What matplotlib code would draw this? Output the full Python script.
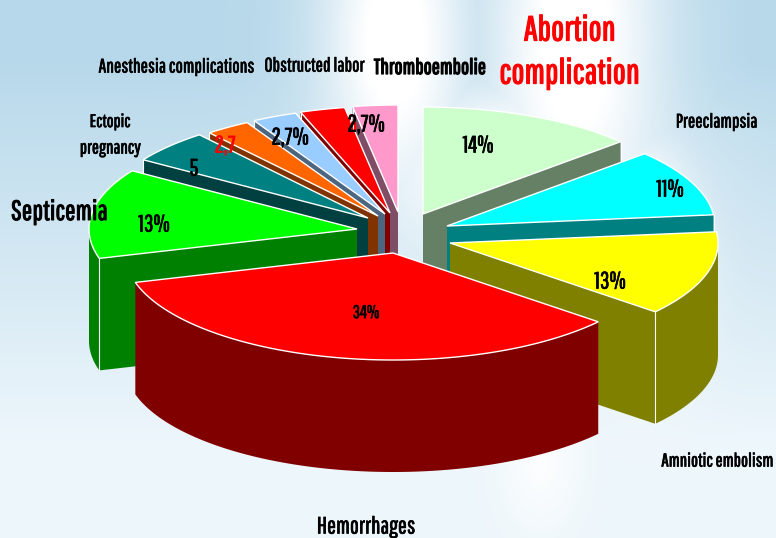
import numpy as np
import matplotlib
matplotlib.use("Agg")
import matplotlib.pyplot as plt
import matplotlib.patheffects as pe

# ---- data ----
categories = ["Unlabelled", "Preeclampsia", "Amniotic embolism", "Hemorrhages", "Septicemia",
              "Ectopic pregnancy", "Anesthesia complications", "Obstructed labor", "Other", "Thromboembolie"]
values = [14, 11, 13, 34, 13, 5, 2.7, 2.7, 2.7, 2.7]
value_labels = ["14%", "11%", "13%", "34%", "13%", "5", "2,7", "2,7%", "2,7%", "2,7%"]

# ---- style / layout ----
top_colors = ["#CCFFCC", "#00FFFF", "#FFFF00", "#FF0000", "#00FF00", "#008080", "#FF6600", "#99CCFF", "#FF0000", "#FF99CC"]
side_colors = ["#668066", "#008080", "#808000", "#800000", "#008000", "#004040", "#803300", "#4D6680", "#800000", "#804D66"]
apex_px = [(423, 214), (447, 226), (450, 243), (393, 253), (357, 229),
           (368, 218), (378, 216), (385, 214), (390, 213), (398, 212)]
draw_order = [0, 9, 8, 7, 6, 5, 4, 1, 2, 3]
RX, RY, DEPTH = 268, 107, 112
W, H = 776, 538
FONT = ["Pathway Gothic One", "Archivo Narrow", "Liberation Sans", "DejaVu Sans"]

fig = plt.figure(figsize=(W / 100, H / 100), dpi=100)
ax = fig.add_axes([0, 0, 1, 1])
ax.set_xlim(0, W)
ax.set_ylim(H, 0)
ax.axis("off")

# background wash
yy, xx = np.mgrid[0:H, 0:W]
blue = np.array([0.72, 0.85, 0.92])
pale = np.array([0.93, 0.965, 0.985])
t = np.clip((yy - 60) / 380, 0, 1)[..., None]
bg = blue * (1 - t) + pale * t
def blob(cx, cy, sx, sy, a):
    return a * np.exp(-((xx - cx) / sx) ** 2 - ((yy - cy) / sy) ** 2)
white = np.maximum.reduce([
    blob(395, 40, 75, 170, 1.0),
    blob(575, 40, 90, 230, 1.0),
    blob(640, 250, 60, 120, 1.0),
    blob(520, 170, 140, 90, 1.0),
    blob(540, 460, 40, 70, 0.7),
])[..., None]
white = np.clip(white * 1.15, 0, 1)
bg = bg * (1 - white) + white
ax.imshow(bg, extent=(0, W, H, 0), aspect="auto", zorder=0)

fractions = np.array(values) / np.sum(values)
edges = np.concatenate([[0], np.cumsum(fractions) * 360])
# the original's perspective squeezes the right-hand side of the pie slightly
edges = np.interp(edges, [0, 50, 89.3, 135.7, 257.1, 303.6, 360], [0, 47.5, 84, 130, 254, 303, 360])

def outline(ap, t):
    r = np.radians(t)
    return ap[0] + RX * np.sin(r), ap[1] - RY * np.cos(r)

z = 1
for i in draw_order:
    ap = apex_px[i]
    t0, t1 = edges[i], edges[i + 1]
    ts = np.linspace(t0, t1, 120)
    ax_, ay_ = outline(ap, ts)
    if t1 < 180:
        ex, ey = outline(ap, t1)
    elif t0 > 180:
        ex, ey = outline(ap, t0)
    else:
        ex = None
    if ex is not None:
        ax.fill([ap[0], ex, ex, ap[0]], [ap[1], ey, ey + DEPTH, ap[1] + DEPTH],
                facecolor=side_colors[i], edgecolor="none", zorder=z)
        ax.plot([ex, ex], [ey, ey + DEPTH], color="white", lw=0.8, zorder=z + 0.25)
    mask = (ts >= 90) & (ts <= 270)
    if mask.sum() > 1:
        xs, ys = ax_[mask], ay_[mask]
        ax.fill(np.r_[xs, xs[::-1]], np.r_[ys, ys[::-1] + DEPTH],
                facecolor=side_colors[i], edgecolor="none", zorder=z + 0.2)
    ax.fill(np.r_[ap[0], ax_], np.r_[ap[1], ay_], facecolor=top_colors[i],
            edgecolor="white", lw=1.0, joinstyle="miter", zorder=z + 0.3)
    z += 1

def label(x, y, s, size, color="black", stroke=0.5):
    ax.text(x, y, s, fontsize=size, color=color, ha="center", va="center",
            family=FONT, zorder=50,
            path_effects=[pe.withStroke(linewidth=stroke, foreground=color)])

value_pos = [(478, 146), (670, 190), (610, 282), (366, 313), (154, 225),
             (194, 169), (225, 146), (290, 138), (338, 125), (366, 125)]
value_size = [17, 17, 17, 13, 17, 17, 17, 17, 17, 17]
value_col = ["black"] * 6 + ["#FF0000", "black", "#FF0000", "black"]
for (x, y), s, fs, c in zip(value_pos, value_labels, value_size, value_col):
    label(x, y, s, fs, c)

label(570, 30, "Abortion", 25, "#FF0000", 0.9)
label(570, 73, "complication", 25, "#FF0000", 0.9)
label(717, 122, "Preeclampsia", 14)
label(717, 461, "Amniotic embolism", 13.5)
label(366, 527, "Hemorrhages", 17)
label(59, 212, "Septicemia", 20, stroke=0.7)
label(110, 122, "Ectopic", 13)
label(110, 148, "pregnancy", 13.5)
label(177, 67, "Anesthesia complications", 14)
label(315, 66, "Obstructed labor", 14)
label(430, 68, "Thromboembolie", 15.5, stroke=0.9)

fig.savefig("out.png", dpi=100)
